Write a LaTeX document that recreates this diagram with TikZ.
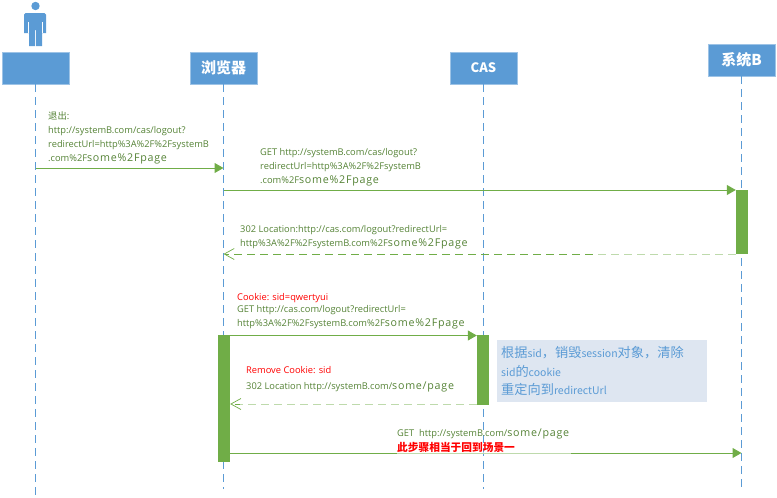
\documentclass[tikz,border=0pt]{standalone}
\usepackage{fontspec}
\setmainfont{Open Sans}
\newfontfamily\cjk{Noto Sans CJK SC}
\usetikzlibrary{arrows.meta}
\definecolor{headblue}{HTML}{5B9BD5}
\definecolor{barblue}{HTML}{9DC3E6}
\definecolor{flowgreen}{HTML}{70AD47}
\definecolor{labelgreen}{HTML}{548235}
\definecolor{notefill}{HTML}{DEE6F1}
\newcommand{\wide}[1]{{\fontsize{10.7}{14}\selectfont\addfontfeature{LetterSpace=7}#1}}
\newcommand{\notelatin}[1]{{\fontsize{10.5}{18.5}\selectfont #1}}
\tikzset{
  x=1pt,y=-1pt,
  head/.style={fill=headblue,draw=barblue,line width=.6pt,minimum width=67pt,minimum height=32pt,inner sep=0pt,text=white,font=\cjk\bfseries\fontsize{15}{16}\selectfont},
  life/.style={draw=headblue,line width=.9pt,dash pattern=on 8pt off 5pt},
  bar/.style={fill=flowgreen,draw=none,minimum width=12pt,inner sep=0pt},
  call/.style={draw=flowgreen,line width=1pt,-{Triangle[length=9pt,width=10pt]}},
  reply/.style={draw=flowgreen,line width=1pt,dash pattern=on 8pt off 5pt,-{Straight Barb[length=10pt,width=11pt,line width=.7pt]}},
  fade/.style={draw=white,opacity=.55,line width=1.4pt},
  msg/.style={anchor=north west,inner sep=0pt,align=left,text=labelgreen,font=\fontsize{9.3}{14}\selectfont},
  note/.style={anchor=north west,fill=notefill,minimum width=210pt,minimum height=62pt,text width=202pt,inner xsep=4pt,inner ysep=2pt,align=left,text=headblue,font=\cjk\fontsize{13.2}{18.5}\selectfont},
}
\begin{document}
\begin{tikzpicture}
\useasboundingbox (0,0) rectangle (777,498);

% actor icon
\fill[headblue] (35.5,6) circle (4.2);
\fill[headblue] (24,33) -- (24,14.5) -- (25.5,13) -- (44.5,13) -- (46,14.5) -- (46,33) -- (42,33) -- (42,46) -- (36,46) -- (36,30) -- (35,30) -- (35,46) -- (29,46) -- (29,33) -- cycle;
\draw[white,line width=.5pt] (28.5,22) -- (28.5,33) (42.5,22) -- (42.5,33);

% participants
\node[head] (user) at (35.5,68) {};
\node[head] (browser) at (223.5,68) {浏览器};
\node[head,font=\cjk\bfseries\fontsize{13}{14}\selectfont] (cas) at (483.5,68) {CAS};
\node[head] (sysb) at (741.5,60) {系统B};

% ends of the lifelines
\coordinate (userend) at (35.5,497);
\coordinate (browserend) at (223.5,489);
\coordinate (casend) at (483.5,489);
\coordinate (sysbend) at (741.5,492);

\draw[life] (user.south) -- (userend);
\draw[life] (browser.south) -- (browserend);
\draw[life] (cas.south) -- (casend);
\draw[life] (sysb.south) -- (sysbend);

% activation bars
\node[bar,minimum height=127pt] (barbrowser) at (224,398.5) {};
\node[bar,minimum height=70pt] (barcas) at (483,370) {};
\node[bar,minimum height=64pt] (barsysb) at (742,222) {};

% note beside the CAS activation
\node[note] (casnote) at (497,340) {根据\notelatin{sid}，销毁\notelatin{session}对象，清除\\
\notelatin{sid}的\notelatin{cookie}\\
重定向到\notelatin{redirectUrl}};

% anchors of the messages on the lifelines
\coordinate (m1a) at (35.5,168);
\coordinate (m1b) at (223.5,168);
\coordinate (m2a) at (223.5,190);
\coordinate (m3b) at (223.5,254);
\coordinate (m4a) at (barbrowser.east |- 0,335.5);
\coordinate (m5a) at (barcas.west |- 0,404);
\coordinate (m5b) at (barbrowser.east |- 0,404);
\coordinate (m6a) at (barbrowser.east |- 0,453);
\coordinate (m6b) at (741.5,453);
\coordinate (m2b) at (barsysb.west |- 0,190);
\coordinate (m3a) at (barsysb.west |- 0,254);
\coordinate (m4b) at (barcas.west |- 0,335.5);

% messages
\draw[call] (m1a) -- (m1b);
\draw[call] (m2a) -- (m2b);
\draw[reply] (m3a) -- (m3b);
\draw[call] (m4a) -- (m4b);
\draw[reply] (m5a) -- (m5b);
\draw[call] (m6a) -- (m6b);

% paler stretches of the message lines
\coordinate (f3a) at (597,254);
\coordinate (f5a) at (240,404);
\coordinate (f5b) at (477,404);
\coordinate (f6a) at (397,453);
\coordinate (f6b) at (571,453);
\draw[fade] (f3a) -- (m3a);
\draw[fade] (f5a) -- (f5b);
\draw[fade] (f6a) -- (f6b);

% message labels
\node[msg] (t1) at (48,111.5) {{\cjk 退出}:\\http://systemB.com/cas/logout?\\redirectUrl=http\%3A\%2F\%2FsystemB\\.com\%2F\wide{some\%2Fpage}};
\node[msg] (t2) at (260,148) {GET http://systemB.com/cas/logout?\\redirectUrl=http\%3A\%2F\%2FsystemB\\.com\%2F\wide{some\%2Fpage}};
\node[msg] (t3) at (240,225) {302 Location:http://cas.com/logout?redirectUrl=\\http\%3A\%2F\%2FsystemB.com\%2F\wide{some\%2Fpage}};
\node[msg,text=red] (t4a) at (237,293) {Cookie: sid=qwertyui};
\node[msg] (t4b) at (237,305) {GET http://cas.com/logout?redirectUrl=\\http\%3A\%2F\%2FsystemB.com\%2F\wide{some\%2Fpage}};
\node[msg,text=red] (t5a) at (246,366) {Remove Cookie: sid};
\node[msg] (t5b) at (246,381.5) {302 Location http://systemB.com/\wide{some/page}};
\node[msg] (t6a) at (397,428.5) {GET\ \ http://systemB.com/\wide{some/page}};
\node[msg,text=red,font=\cjk\bfseries\fontsize{10.7}{14}\selectfont] (t6b) at (397,442) {此步骤相当于回到场景一};
\end{tikzpicture}
\end{document}
